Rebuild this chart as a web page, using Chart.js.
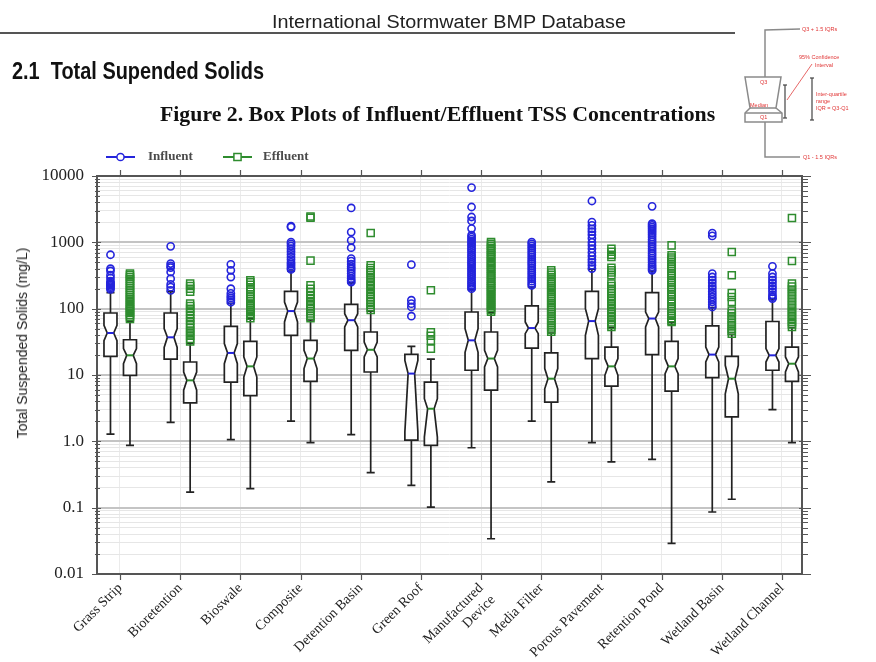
<!DOCTYPE html>
<html><head><meta charset="utf-8">
<script src="https://cdn.jsdelivr.net/npm/chart.js@4/dist/chart.umd.min.js"></script>
<style>
html,body{margin:0;padding:0;background:#fff;width:876px;height:662px;overflow:hidden;}
#wrap{position:absolute;left:0;top:0;width:876px;height:662px;}
canvas{position:absolute;left:0;top:0;}
.t{position:absolute;white-space:nowrap;line-height:1;}
</style></head><body>
<div id="wrap"><canvas id="c" width="876" height="662"></canvas></div>
<div class="t" style="left:272px;top:12px;font:18px 'Liberation Sans',Arial,sans-serif;color:#222;transform:scaleX(1.1);transform-origin:0 0">International Stormwater BMP Database</div>
<div style="position:absolute;left:0;top:32px;width:735px;height:2px;background:#555"></div>
<div class="t" style="left:12px;top:57px;font:bold 24px 'Liberation Sans Narrow','Arial Narrow','Liberation Sans',sans-serif;color:#111;transform:scaleX(0.83);transform-origin:0 0">2.1&nbsp; Total Supended Solids</div>
<div class="t" style="left:160px;top:103px;font:bold 20px 'Liberation Serif','Times New Roman',serif;color:#111;transform:scaleX(1.09);transform-origin:0 0">Figure 2. Box Plots of Influent/Effluent TSS Concentrations</div>
<div class="t" style="left:22px;top:343px;font:14px 'Liberation Sans',Arial,sans-serif;color:#222;transform:translate(-50%,-50%) rotate(-90deg);">Total Suspended Solids (mg/L)</div>
<svg style="position:absolute;left:735px;top:0" width="141" height="170" viewBox="735 0 141 170">
  <g stroke="#8a8a8a" stroke-width="1.5" fill="none">
    <polyline points="765,77 765,30 800,29"/>
    <polyline points="765,122 765,157 800,157"/>
    <polygon points="745,77 781,77 776,108 782,113 782,122 745,122 745,113 750,108" fill="#fff"/>
    <line x1="750" y1="108" x2="776" y2="108"/>
    <line x1="745" y1="113" x2="782" y2="113"/>
  </g>
  <g stroke="#444" stroke-width="1.2">
    <line x1="785" y1="85" x2="785" y2="118"/><line x1="783" y1="85" x2="787" y2="85"/><line x1="783" y1="118" x2="787" y2="118"/>
    <line x1="812" y1="78" x2="812" y2="120"/><line x1="810" y1="78" x2="814" y2="78"/><line x1="810" y1="120" x2="814" y2="120"/>
  </g>
  <line x1="787" y1="100" x2="812" y2="64" stroke="#e04040" stroke-width="0.8"/>
  <g fill="#e03535" font-family="'Liberation Sans',Arial,sans-serif" font-size="5.5">
    <text x="802" y="31">Q3 + 1.5 IQRs</text>
    <text x="799" y="59">95% Confidence</text>
    <text x="815" y="67">Interval</text>
    <text x="760" y="84">Q3</text>
    <text x="750" y="107">Median</text>
    <text x="760" y="119">Q1</text>
    <text x="816" y="96">Inter-quartile</text>
    <text x="816" y="103">range</text>
    <text x="816" y="110">IQR = Q3-Q1</text>
    <text x="803" y="159">Q1 - 1.5 IQRs</text>
  </g>
</svg>
<script>
// ---- categories and tick labels ----
const categories = ['Grass Strip','Bioretention','Bioswale','Composite','Detention Basin','Green Roof',['Manufactured','Device'],'Media Filter','Porous Pavement','Retention Pond','Wetland Basin','Wetland Channel'];
const yDecadeLabels = ['0.01','0.1','1.0','10','100','1000','10000'];
const yDecadeValues = [0.01,0.1,1,10,100,1000,10000];

// ---- Influent box statistics (mg/L) ----
const infWhiskerLow  = [1.28, 1.93, 1.06, 2.02, 1.26, 0.217, 0.80, 2.02, 0.955, 0.535, 0.086, 3.0];
const infQ1          = [19.1, 17.4, 7.8, 39.6, 23.5, 1.04, 11.8, 25.5, 17.7, 20.3, 9.1, 11.8];
const infNotchLow    = [33, 26, 14.8, 63, 53, 1.38, 22, 42, 39.6, 53, 15.7, 15.7];
const infMedian      = [43, 37, 21.5, 92, 67, 10.5, 33.3, 51, 65, 71, 20.3, 19.8];
const infNotchHigh   = [56, 50, 29.7, 126, 84, 16.6, 50, 63, 100, 89, 26.4, 25];
const infQ3          = [86, 86, 54, 182, 116, 20.5, 89, 110, 182, 175, 55, 64];
const infWhiskerHigh = [175, 180, 120, 370, 245, 27, 195, 212, 395, 370, 104, 140];

// ---- Effluent box statistics (mg/L) ----
const effWhiskerLow  = [0.87, 0.172, 0.194, 0.955, 0.337, 0.102, 0.034, 0.244, 0.49, 0.029, 0.134, 0.955];
const effQ1          = [9.9, 3.8, 4.9, 8.0, 11.1, 0.87, 5.9, 3.9, 6.8, 5.7, 2.33, 8.0];
const effNotchLow    = [14.8, 5.9, 9.3, 12.5, 18.7, 1.16, 13.2, 6.2, 9.9, 10.5, 5.2, 11.1];
const effMedian      = [19.8, 8.3, 13.5, 17.7, 24, 3.1, 17.7, 8.8, 13.5, 13.5, 8.8, 14.8];
const effNotchHigh   = [25, 11.1, 18.7, 23.5, 31.4, 4.4, 23.5, 12.5, 17.7, 17.7, 14, 18.7];
const effQ3          = [34, 15.7, 32.2, 33.3, 44.5, 7.8, 44.5, 21.5, 26.4, 32.2, 19.1, 26.4];
const effWhiskerHigh = [64, 30, 70, 68, 92, 17.4, 87, 43, 52, 62, 41, 52];

// ---- Outliers ----
const infOutliers = [
  [650, 400, 370, 320, 290, 260, 245, 235, 225, 215, 205, 195],
  [870, 478, 440, 416, 357, 283, 232, 211, 189],
  [466, 378, 300, 200, 170, 155, 145, 135, 125],
  [1750, 1700, 1010, 950, 880, 800, 730, 660, 600, 550, 500, 470, 440, 410, 390],
  [3300, 1430, 1070, 830, 570, 520, 470, 430, 400, 370, 340, 310, 285, 265, 252],
  [461, 134, 119, 106, 77],
  [6680, 3410, 2410, 2100, 1610, 1280, 1200, 1120, 1050, 980, 920, 860, 800, 750, 700, 650, 610, 570, 530, 500, 470, 440, 410, 385, 360, 335, 315, 295, 275, 255, 240, 225, 212, 200],
  [1010, 950, 880, 820, 760, 700, 650, 600, 555, 515, 480, 445, 410, 380, 350, 325, 300, 280, 260, 240, 225],
  [4200, 2020, 1800, 1600, 1450, 1300, 1150, 1000, 900, 800, 700, 620, 550, 500, 450, 402],
  [3490, 1910, 1800, 1700, 1600, 1500, 1400, 1300, 1200, 1100, 1020, 940, 870, 800, 740, 680, 630, 580, 540, 500, 460, 430, 400, 378],
  [1380, 1250, 337, 300, 270, 245, 220, 200, 180, 165, 150, 138, 126, 115, 106],
  [435, 337, 300, 270, 245, 220, 200, 180, 162, 150, 142]
];
const effOutliers = [
  [340, 320, 300, 280, 260, 240, 220, 205, 190, 175, 160, 150, 140, 130, 120, 112, 105, 98, 92, 86, 80, 75, 70],
  [240, 220, 200, 180, 120, 110, 100, 90, 80, 72, 65, 58, 52, 47, 43, 39, 35, 32],
  [267, 250, 230, 210, 195, 180, 165, 152, 140, 130, 120, 112, 104, 96, 90, 84, 78, 72],
  [2450, 2350, 530, 225, 200, 180, 160, 145, 130, 118, 108, 100, 92, 85, 78, 72],
  [1380, 450, 410, 380, 350, 320, 290, 265, 240, 220, 200, 180, 165, 150, 138, 126, 115, 105, 96],
  [189, 44, 39, 33, 25],
  [1010, 950, 890, 830, 780, 730, 680, 640, 600, 560, 520, 490, 460, 430, 400, 375, 350, 325, 305, 285, 265, 248, 232, 217, 203, 190, 178, 166, 155, 145, 135, 126, 118, 110, 103, 96, 90],
  [378, 350, 325, 300, 278, 258, 240, 222, 206, 192, 178, 165, 153, 142, 132, 122, 113, 105, 97, 90, 83, 77, 71, 66, 61, 56, 52, 48, 45],
  [800, 720, 650, 600, 415, 380, 350, 318, 239, 220, 200, 185, 170, 155, 142, 130, 118, 108, 98, 90, 82, 75, 68, 62, 57, 53],
  [900, 637, 590, 550, 510, 470, 435, 400, 370, 340, 315, 290, 268, 248, 228, 210, 194, 178, 164, 151, 139, 128, 118, 108, 100, 92, 85, 78, 72, 66, 63],
  [716, 318, 172, 150, 126, 94, 85, 77, 69, 62, 56, 50, 46, 42],
  [2330, 522, 239, 215, 195, 175, 158, 142, 128, 115, 104, 94, 85, 77, 70, 63, 58, 53]
];

// ---- styling constants ----
const INF_OFF = -0.158, EFF_OFF = 0.166, HALF_W = 0.108;
const INF_COLOR = '#2424dc', EFF_COLOR = '#2e8c2e';

function toPoints(outs, off) {
  const a = [];
  outs.forEach((arr, i) => arr.forEach(v => a.push({ x: i + off, y: v })));
  return a;
}
const isDecade = v => Math.abs(Math.log10(v) - Math.round(Math.log10(v))) < 1e-9;

const series = [
  { off: INF_OFF, color: INF_COLOR, lo: infWhiskerLow, q1: infQ1, nl: infNotchLow, md: infMedian, nh: infNotchHigh, q3: infQ3, hi: infWhiskerHigh },
  { off: EFF_OFF, color: EFF_COLOR, lo: effWhiskerLow, q1: effQ1, nl: effNotchLow, md: effMedian, nh: effNotchHigh, q3: effQ3, hi: effWhiskerHigh }
];

const boxPlugin = {
  id: 'boxes',
  beforeDatasetsDraw(chart) {
    const ctx = chart.ctx, xs = chart.scales.x, ys = chart.scales.y;
    ctx.save();
    series.forEach(s => {
      categories.forEach((_, i) => {
        const cx = xs.getPixelForValue(i + s.off);
        const hw = xs.getPixelForValue(i + s.off + HALF_W) - cx;
        const nw = hw * 0.5, cw = hw * 0.62;
        const yLo = ys.getPixelForValue(s.lo[i]), yQ1 = ys.getPixelForValue(s.q1[i]);
        const yNL = ys.getPixelForValue(s.nl[i]), yMd = ys.getPixelForValue(s.md[i]);
        const yNH = ys.getPixelForValue(s.nh[i]), yQ3 = ys.getPixelForValue(s.q3[i]);
        const yHi = ys.getPixelForValue(s.hi[i]);
        ctx.strokeStyle = '#222'; ctx.lineWidth = 1.7; ctx.lineJoin = 'miter';
        // whiskers
        ctx.beginPath();
        ctx.moveTo(cx, yQ3); ctx.lineTo(cx, yHi);
        ctx.moveTo(cx - cw, yHi); ctx.lineTo(cx + cw, yHi);
        ctx.moveTo(cx, yQ1); ctx.lineTo(cx, yLo);
        ctx.moveTo(cx - cw, yLo); ctx.lineTo(cx + cw, yLo);
        ctx.stroke();
        // notched box
        ctx.beginPath();
        ctx.moveTo(cx - hw, yQ3); ctx.lineTo(cx + hw, yQ3);
        ctx.lineTo(cx + hw, yNH); ctx.lineTo(cx + nw, yMd); ctx.lineTo(cx + hw, yNL);
        ctx.lineTo(cx + hw, yQ1); ctx.lineTo(cx - hw, yQ1);
        ctx.lineTo(cx - hw, yNL); ctx.lineTo(cx - nw, yMd); ctx.lineTo(cx - hw, yNH);
        ctx.closePath();
        ctx.fillStyle = '#ffffff'; ctx.fill(); ctx.stroke();
        if (yNL > yQ1) { ctx.beginPath(); ctx.moveTo(cx - hw, yQ1); ctx.lineTo(cx + hw, yQ1); ctx.stroke(); }
        // median
        ctx.strokeStyle = s.color; ctx.lineWidth = 2;
        ctx.beginPath(); ctx.moveTo(cx - nw, yMd); ctx.lineTo(cx + nw, yMd); ctx.stroke();
      });
    });
    ctx.restore();
  },
  afterDraw(chart) {
    const ctx = chart.ctx, a = chart.chartArea, xs = chart.scales.x, ys = chart.scales.y;
    ctx.save();
    // frame
    ctx.strokeStyle = '#555'; ctx.lineWidth = 2;
    ctx.strokeRect(a.left, a.top, a.right - a.left, a.bottom - a.top);
    // y tick marks (left and right)
    ctx.lineWidth = 1.2; ctx.strokeStyle = '#555';
    ctx.beginPath();
    ys.ticks.forEach(t => {
      const y = Math.round(ys.getPixelForValue(t.value)) + 0.5;
      const maj = isDecade(t.value);
      ctx.moveTo(a.left - (maj ? 5 : 2), y); ctx.lineTo(a.left + (maj ? 4 : 3), y);
      ctx.moveTo(a.right - (maj ? 3 : 0), y); ctx.lineTo(a.right + (maj ? 9 : 6), y);
    });
    // x tick marks top and bottom
    xs.ticks.forEach(t => {
      const x = Math.round(xs.getPixelForValue(t.value)) + 0.5;
      ctx.moveTo(x, a.top - 6); ctx.lineTo(x, a.top);
      ctx.moveTo(x, a.bottom); ctx.lineTo(x, a.bottom + 6);
    });
    ctx.stroke();
    // legend
    const ly = 157;
    const items = [
      { x0: 106, x1: 135, color: INF_COLOR, label: 'Influent', tx: 148, shape: 'circle' },
      { x0: 223, x1: 252, color: EFF_COLOR, label: 'Effluent', tx: 263, shape: 'rect' }
    ];
    items.forEach(it => {
      ctx.strokeStyle = it.color; ctx.lineWidth = 2;
      ctx.beginPath(); ctx.moveTo(it.x0, ly); ctx.lineTo(it.x1, ly); ctx.stroke();
      const mx = (it.x0 + it.x1) / 2;
      ctx.fillStyle = '#fff'; ctx.lineWidth = 1.5;
      ctx.beginPath();
      if (it.shape === 'circle') ctx.arc(mx, ly, 3.6, 0, Math.PI * 2);
      else ctx.rect(mx - 3.6, ly - 3.6, 7.2, 7.2);
      ctx.fill(); ctx.stroke();
      ctx.fillStyle = '#4a4a4a'; ctx.font = "bold 13px 'Liberation Serif', 'Times New Roman', serif";
      ctx.textBaseline = 'middle'; ctx.textAlign = 'left';
      ctx.fillText(it.label, it.tx, ly);
    });
    ctx.restore();
  }
};

new Chart(document.getElementById('c'), {
  type: 'scatter',
  data: {
    datasets: [
      { label: 'Influent', data: toPoints(infOutliers, INF_OFF), pointStyle: 'circle', pointRadius: 3.6, pointHoverRadius: 3.6,
        borderColor: INF_COLOR, backgroundColor: 'rgba(0,0,0,0)', pointBorderWidth: 1.6, showLine: false },
      { label: 'Effluent', data: toPoints(effOutliers, EFF_OFF), pointStyle: 'rect', pointRadius: 5, pointHoverRadius: 5,
        borderColor: EFF_COLOR, backgroundColor: 'rgba(0,0,0,0)', pointBorderWidth: 1.5, showLine: false }
    ]
  },
  options: {
    responsive: false, animation: false, devicePixelRatio: 1,
    layout: { padding: { top: 176, right: 74, left: 0, bottom: 0 } },
    plugins: { legend: { display: false }, tooltip: { enabled: false }, title: { display: false } },
    events: [],
    scales: {
      x: {
        type: 'linear', min: -0.382, max: 11.333,
        afterFit: s => { s.height = 88; },
        afterBuildTicks: s => { s.ticks = categories.map((_, i) => ({ value: i })); },
        border: { display: false },
        grid: { color: '#ebebeb', lineWidth: 1, drawTicks: false },
        ticks: {
          autoSkip: false, maxRotation: 45, minRotation: 45, padding: 6,
          color: '#222', font: { family: "'Liberation Serif', 'Times New Roman', serif", size: 14 },
          callback: v => categories[v] ?? ''
        }
      },
      y: {
        type: 'logarithmic', min: 0.01, max: 10000,
        afterFit: s => { s.width = 97; },
        afterBuildTicks: s => {
          const t = [];
          for (let e = -2; e <= 3; e++) for (let m = 1; m <= 9; m++) t.push({ value: +(m * Math.pow(10, e)).toPrecision(6) });
          t.push({ value: 10000 });
          s.ticks = t;
        },
        border: { display: false },
        grid: {
          drawTicks: false,
          color: c => (c.tick && isDecade(c.tick.value)) ? '#c4c4c4' : '#e6e6e6',
          lineWidth: c => (c.tick && isDecade(c.tick.value)) ? 2 : 1
        },
        ticks: {
          autoSkip: false, padding: 13, color: '#222',
          font: { family: "'Liberation Serif', 'Times New Roman', serif", size: 17 },
          callback: v => { const k = yDecadeValues.findIndex(d => Math.abs(d - v) / d < 1e-9); return k >= 0 ? yDecadeLabels[k] : ''; }
        }
      }
    }
  },
  plugins: [boxPlugin]
});
</script>
</body></html>
